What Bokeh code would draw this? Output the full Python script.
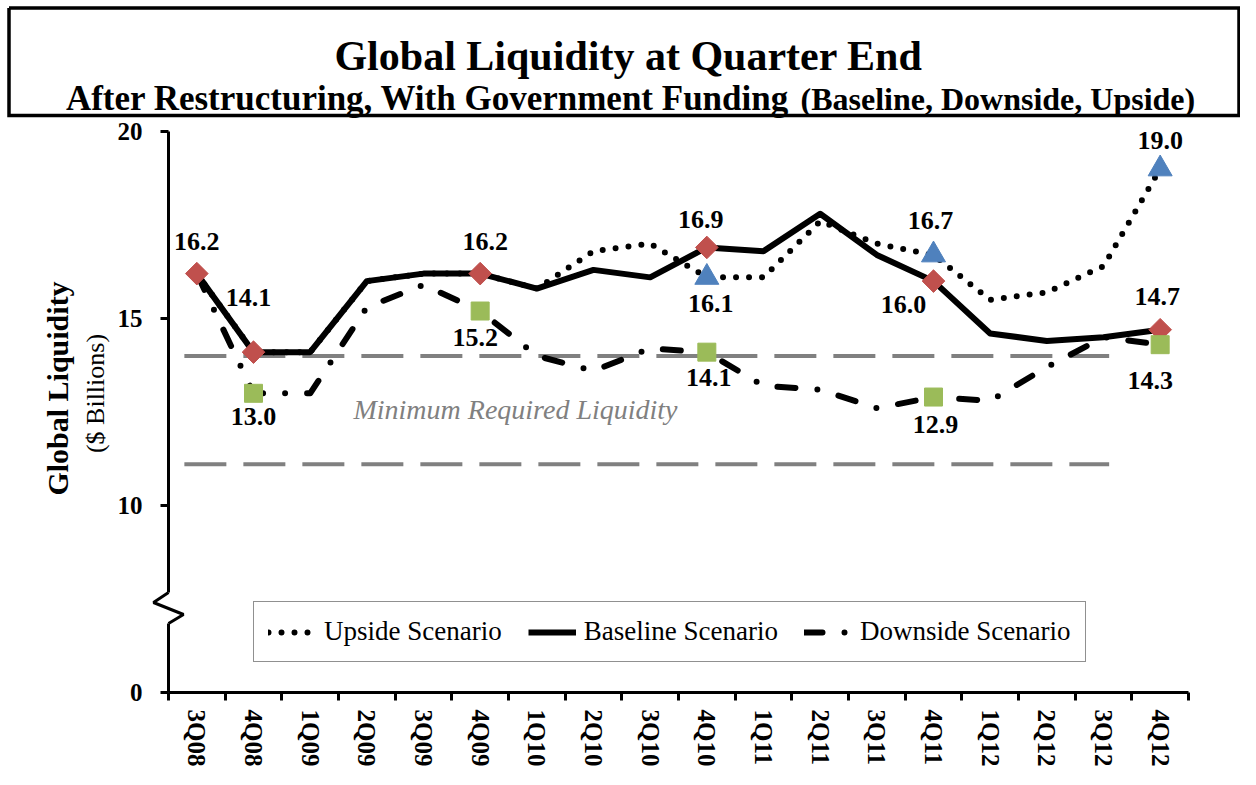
import math
from bokeh.plotting import figure
from bokeh.models import Range1d, FixedTicker, ColumnDataSource, Legend, LegendItem
from bokeh.embed import file_html
from bokeh.resources import INLINE
from bokeh.core.properties import value

# ---------------- data ----------------
quarters = ["3Q08", "4Q08", "1Q09", "2Q09", "3Q09", "4Q09", "1Q10", "2Q10", "3Q10",
            "4Q10", "1Q11", "2Q11", "3Q11", "4Q11", "1Q12", "2Q12", "3Q12", "4Q12"]
baseline = [16.2, 14.1, 14.1, 16.0, 16.2, 16.2, 15.8, 16.3, 16.1,
            16.9, 16.8, 17.8, 16.7, 16.0, 14.6, 14.4, 14.5, 14.7]
upside = [16.2, 14.1, 14.1, 16.0, 16.2, 16.2, 15.8, 16.8, 17.0,
          16.1, 16.1, 17.6, 17.0, 16.7, 15.5, 15.7, 16.4, 19.0]
downside = [16.2, 13.0, 13.0, 15.3, 15.9, 15.2, 14.0, 13.6, 14.2,
            14.1, 13.2, 13.1, 12.6, 12.9, 12.8, 13.7, 14.5, 14.3]
baseline_marked = ["3Q08", "4Q08", "4Q09", "4Q10", "4Q11", "4Q12"]
upside_marked = ["4Q10", "4Q11", "4Q12"]
downside_marked = ["4Q08", "4Q09", "4Q10", "4Q11", "4Q12"]
min_required = [14.0, 11.1]
min_required_text = "Minimum Required Liquidity"
y_tick_values = [0, 10, 15, 20]
series_names = ["Upside Scenario", "Baseline Scenario", "Downside Scenario"]
title_text = "Global Liquidity at Quarter End"
subtitle_main = "After Restructuring, With Government Funding"
subtitle_paren = "(Baseline, Downside, Upside)"

# ---------------- style ----------------
FONT = "Liberation Serif"
W, H = 1240, 769
ML, MR, MT, MB = 168, 52, 131, 77
FW, FH = W - ML - MR, H - MT - MB
RED, BLUE, GREEN, GREY = "#C0504D", "#4F81BD", "#9BBB59", "#808080"

# label offsets (px) for each marked point
baseline_off = [(0, -32), (-5, -55), (5, -32), (-6, -28), (-30, 23), (-3, -33)]
upside_off = [(4, 26), (-3, -34), (0, -28)]
downside_off = [(0, 23), (-5, 26), (2, 25), (2, 27), (-10, 36)]


def disp(v):
    """broken axis: 0..10 compressed into 5..10"""
    return v if v >= 10 else 5 + v * 0.5


n = len(quarters)
Y0, Y1 = 5, 20
xpos = [i + 0.5 for i in range(n)]
xmap = dict(zip(quarters, xpos))
idx = {q: i for i, q in enumerate(quarters)}


# helpers converting canvas pixels (figure coords) to data units, for decorations
def cx(px):
    return (px - ML) * n / FW


def cy(py):
    return Y1 - (py - MT) * (Y1 - Y0) / FH


p = figure(width=W, height=H, x_range=Range1d(0, n), y_range=Range1d(Y0, Y1),
           output_backend="svg", toolbar_location=None,
           min_border_left=ML, min_border_right=MR, min_border_top=MT, min_border_bottom=MB)
p.outline_line_color = None
p.grid.visible = False
p.background_fill_color = "white"

# x axis
xa = p.xaxis[0]
xa.ticker = FixedTicker(ticks=xpos, minor_ticks=list(range(n + 1)))
xa.major_label_overrides = {x: q for x, q in zip(xpos, quarters)}
xa.major_tick_line_color = None
xa.major_tick_out = 0
xa.major_tick_in = 0
xa.minor_tick_out = 8
xa.minor_tick_in = 0
xa.minor_tick_line_width = 3
xa.minor_tick_line_color = "black"
xa.axis_line_width = 3
xa.axis_line_color = "black"
xa.major_label_orientation = -math.pi / 2
xa.major_label_standoff = 9
xa.major_label_text_font = FONT
xa.major_label_text_font_style = "bold"
xa.major_label_text_font_size = "25px"
xa.major_label_text_color = "black"

# y axis
ya = p.yaxis[0]
ya.ticker = FixedTicker(ticks=[disp(v) for v in y_tick_values], minor_ticks=[])
ya.major_label_overrides = {disp(v): str(v) for v in y_tick_values}
ya.major_tick_out = 8
ya.major_tick_in = 0
ya.major_tick_line_width = 3
ya.minor_tick_line_color = None
ya.axis_line_width = 3
ya.axis_line_color = "black"
ya.major_label_standoff = 18
ya.major_label_text_font = FONT
ya.major_label_text_font_style = "bold"
ya.major_label_text_font_size = "25px"
ya.major_label_text_color = "black"

# ---------------- title box ----------------
bx0, bx1, by0, by1 = cx(8.5), cx(W - 1.5), cy(7.5), cy(115)
p.line(x=[bx0, bx1, bx1, bx0, bx0], y=[by0, by0, by1, by1, by0], line_color="black",
       line_width=3.5, line_join="miter", level="overlay")
p.text(x=[cx(628)], y=[cy(55)], text=[title_text], text_font=value(FONT),
       text_font_style="bold", text_font_size="42px", text_align="center",
       text_baseline="alphabetic", text_color="black", level="overlay")
p.text(x=[cx(789)], y=[cy(98)], text=[subtitle_main], text_font=value(FONT),
       text_font_style="bold", text_font_size="35px", text_align="right",
       text_baseline="alphabetic", text_color="black", level="overlay")
p.text(x=[cx(800)], y=[cy(98)], text=[subtitle_paren], text_font=value(FONT),
       text_font_style="bold", text_font_size="32px", text_align="left",
       text_baseline="alphabetic", text_color="black", level="overlay")

# minimum required liquidity reference lines
min_x0, min_x1 = 0.28, 16.6
for lvl in min_required:
    p.line(x=[min_x0, min_x1], y=[disp(lvl), disp(lvl)], line_color=GREY, line_width=4,
           line_dash="42 17")
p.text(x=[cx(515)], y=[disp(min_required[0])], text=[min_required_text], y_offset=54,
       text_font=value(FONT), text_font_style="italic", text_font_size="28px",
       text_color=GREY, text_align="center", text_baseline="middle")

src = ColumnDataSource(dict(x=xpos, base=[disp(v) for v in baseline],
                            up=[disp(v) for v in upside], down=[disp(v) for v in downside]))

r_down = p.line("x", "down", source=src, line_color="black", line_width=6,
                line_dash="18 22 0 22", line_cap="round", line_join="round")
r_up = p.line("x", "up", source=src, line_color="black", line_width=6,
              line_dash="0 13", line_cap="round", line_join="round")
r_base = p.line("x", "base", source=src, line_color="black", line_width=6, line_join="round")


def marked_source(names, vals, offs):
    return ColumnDataSource(dict(
        x=[xmap[q] for q in names],
        y=[disp(vals[idx[q]]) for q in names],
        lab=["%.1f" % vals[idx[q]] for q in names],
        dx=[o[0] for o in offs],
        dy=[o[1] for o in offs]))


s_base = marked_source(baseline_marked, baseline, baseline_off)
s_up = marked_source(upside_marked, upside, upside_off)
s_down = marked_source(downside_marked, downside, downside_off)

p.scatter("x", "y", source=s_base, marker="square", angle=math.pi / 4, size=16,
          fill_color=RED, line_color=RED)
p.scatter("x", "y", source=s_down, marker="square", size=18, fill_color=GREEN, line_color=GREEN)
p.scatter("x", "y", source=s_up, marker="triangle", size=24, fill_color=BLUE, line_color=BLUE)

for s in (s_base, s_up, s_down):
    p.text("x", "y", text="lab", source=s, x_offset="dx", y_offset="dy",
           text_font=value(FONT), text_font_style="bold", text_font_size="26px",
           text_color="black", text_align="center", text_baseline="middle")

# axis break (zigzag) on the y axis
brk_top, brk_bot = cy(MT + 461), cy(MT + 492)
p.line(x=[0, 0], y=[brk_top, brk_bot], line_color="white", line_width=8, level="overlay")
p.line(x=[0, cx(ML - 15), cx(ML + 15), 0],
       y=[brk_top, cy(MT + 471), cy(MT + 483), brk_bot],
       line_color="black", line_width=3, level="overlay")

# y axis titles
p.text(x=[cx(57)], y=[cy(388)], text=["Global Liquidity"], angle=math.pi / 2,
       text_font=value(FONT), text_font_style="bold", text_font_size="30px", text_color="black",
       text_align="center", text_baseline="middle", level="overlay")
p.text(x=[cx(95)], y=[cy(393)], text=["($ Billions)"], angle=math.pi / 2,
       text_font=value(FONT), text_font_size="26px", text_color="black",
       text_align="center", text_baseline="middle", level="overlay")

legend = Legend(items=[LegendItem(label=series_names[0], renderers=[r_up]),
                       LegendItem(label=series_names[1], renderers=[r_base]),
                       LegendItem(label=series_names[2], renderers=[r_down])],
                orientation="horizontal", location=(85, 30))
legend.border_line_color = "#222222"
legend.border_line_width = 1.5
legend.background_fill_color = "white"
legend.background_fill_alpha = 1
legend.label_text_font = FONT
legend.label_text_font_size = "27px"
legend.label_text_color = "black"
legend.glyph_width = 48
legend.glyph_height = 20
legend.label_standoff = 8
legend.spacing = 26
legend.padding = 14
legend.margin = 0
p.add_layout(legend)

open("out.html", "w").write(file_html(p, INLINE))
